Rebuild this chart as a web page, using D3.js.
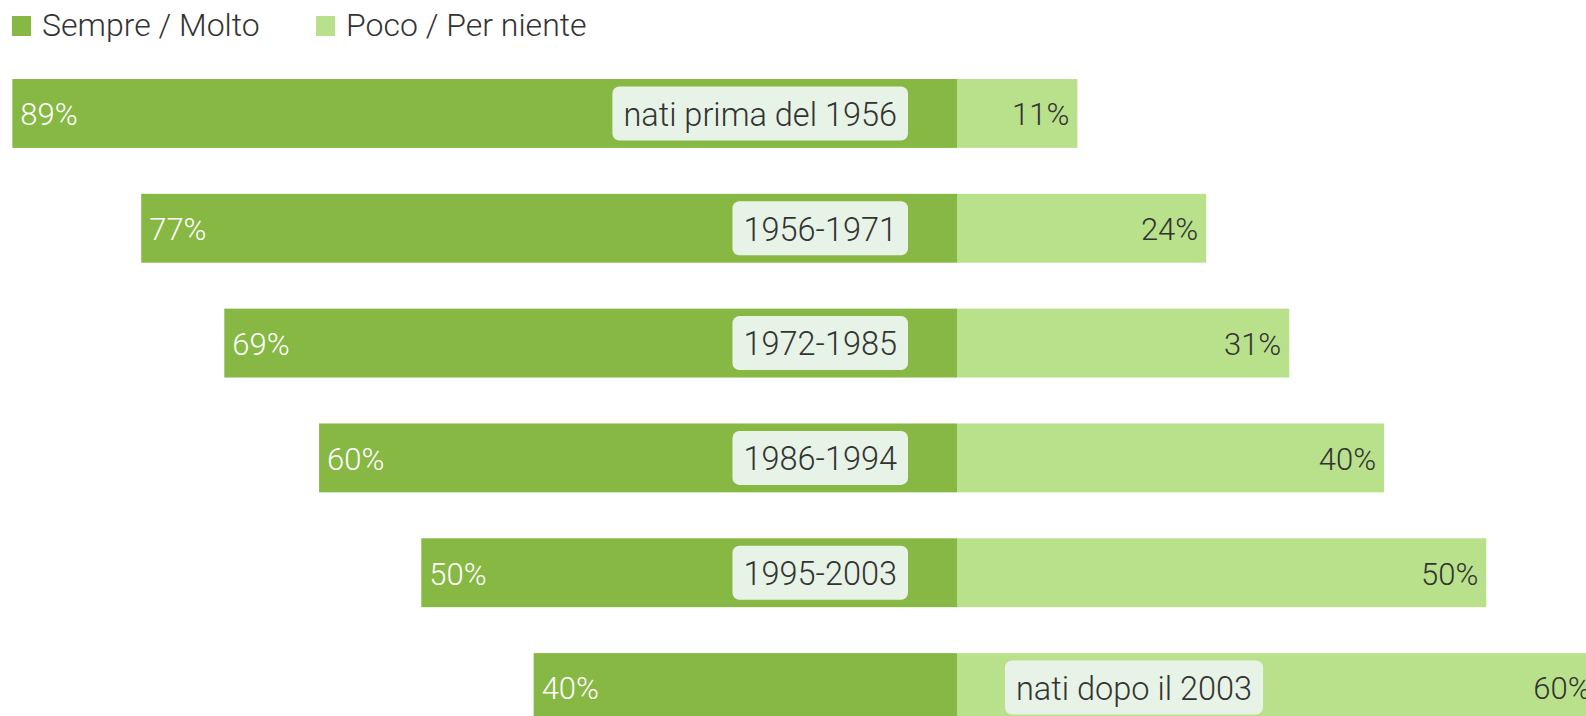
<!DOCTYPE html>
<html>
<head>
<meta charset="utf-8">
<script src="https://cdn.jsdelivr.net/npm/d3@7"></script>
<style>
  body { margin: 0; background: #fff; }
  text { font-family: "Roboto", sans-serif; font-weight: 300; }
</style>
</head>
<body>
<div id="chart"></div>
<script>
let width = 1586,
    height = 716;

// generazioni
let categories = ["nati prima del 1956", "1956-1971", "1972-1985", "1986-1994", "1995-2003", "nati dopo il 2003"];
// valori (%)
let sempre = [88.7, 76.6, 68.8, 59.9, 50.3, 39.75];
let poco = [11.3, 23.4, 31.2, 40.1, 49.7, 60.25];
let sempreLabels = ["89%", "77%", "69%", "60%", "50%", "40%"];
let pocoLabels = ["11%", "24%", "31%", "40%", "50%", "60%"];
let legendLabels = ["Sempre / Molto", "Poco / Per niente"];

let colors = ["#87b844", "#b9e18b"];

let data = categories.map((c, i) => ({
  cat: c,
  left: sempre[i],
  right: poco[i],
  leftLabel: sempreLabels[i],
  rightLabel: pocoLabels[i]
}));

let svg = d3.select("#chart")
  .append("svg")
  .attr("width", width)
  .attr("height", height);

// ----- SCALES -----
let center = 957;
let xScale = d3.scaleLinear()
  .domain([-100, 100])
  .range([center - 1065, center + 1065]);

let yScale = d3.scaleBand()
  .domain(categories)
  .range([79, 722])
  .paddingInner(0.4)
  .paddingOuter(0);

// ----- BARS -----
let rows = svg.selectAll(".row")
  .data(data)
  .enter()
  .append("g")
  .attr("class", "row")
  .attr("transform", d => `translate(0, ${yScale(d.cat)})`);

let bh = yScale.bandwidth();

rows.append("rect")
  .attr("x", d => xScale(-d.left))
  .attr("width", d => xScale(0) - xScale(-d.left))
  .attr("height", bh)
  .attr("fill", colors[0]);

rows.append("rect")
  .attr("x", xScale(0))
  .attr("width", d => xScale(d.right) - xScale(0))
  .attr("height", bh)
  .attr("fill", colors[1]);

// value labels
rows.append("text")
  .attr("x", d => xScale(-d.left) + 8)
  .attr("y", bh / 2)
  .attr("dy", "0.38em")
  .style("font-size", "31px")
  .style("fill", "#fff")
  .text(d => d.leftLabel);

rows.append("text")
  .attr("x", d => xScale(d.right) - 8)
  .attr("y", bh / 2)
  .attr("dy", "0.38em")
  .style("text-anchor", "end")
  .style("font-size", "31px")
  .style("fill", "#333")
  .text(d => d.rightLabel);

// category label boxes
rows.each(function(d) {
  let g = d3.select(this);
  let onRight = d.right > d.left;
  let box = g.append("rect")
    .attr("y", bh / 2 - 27)
    .attr("height", 54)
    .attr("rx", 7)
    .attr("fill", "#e6f3e6");
  let t = g.append("text")
    .attr("y", bh / 2)
    .attr("dy", "0.38em")
    .style("font-size", "32.5px")
    .style("fill", "#333")
    .text(d.cat);
  let w = t.node().getComputedTextLength() + 22;
  let bx = onRight ? xScale(0) + 48 : xScale(0) - 49 - w;
  box.attr("x", bx).attr("width", w);
  t.attr("x", bx + 11);
});

// ----- LEGEND -----
let legendX = [12, 316];
let legend = svg.selectAll(".legend")
  .data(legendLabels)
  .enter()
  .append("g")
  .attr("class", "legend")
  .attr("transform", (d, i) => `translate(${legendX[i]}, 0)`);

legend.append("rect")
  .attr("y", 16)
  .attr("width", 19)
  .attr("height", 20)
  .attr("fill", (d, i) => colors[i]);

legend.append("text")
  .attr("x", 30)
  .attr("y", 36)
  .style("font-size", "32px")
  .style("fill", "#333")
  .text(d => d);
</script>
</body>
</html>
